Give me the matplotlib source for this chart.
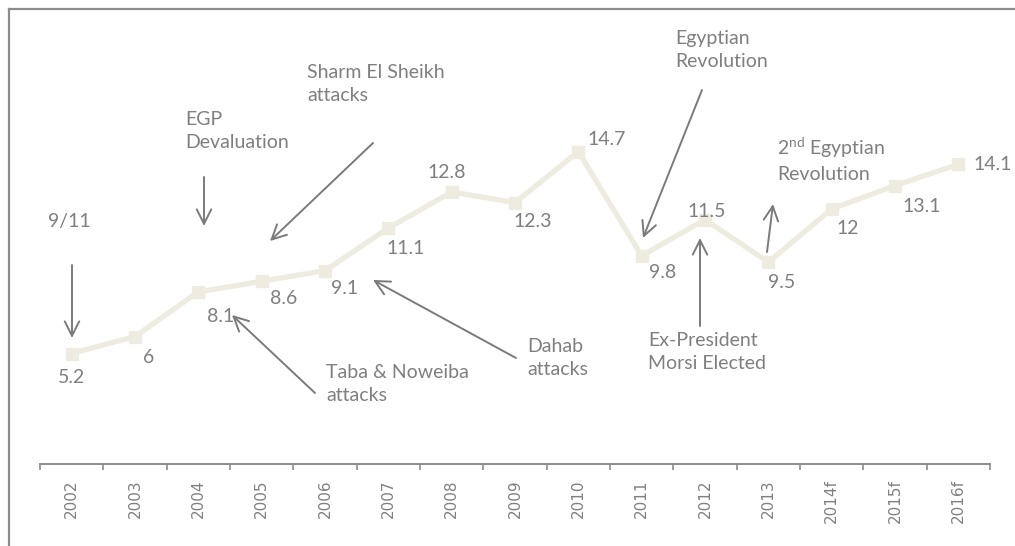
import matplotlib
matplotlib.use("Agg")
import matplotlib.pyplot as plt
from matplotlib.lines import Line2D

years = ["2002", "2003", "2004", "2005", "2006", "2007", "2008", "2009",
         "2010", "2011", "2012", "2013", "2014f", "2015f", "2016f"]
values = [5.2, 6, 8.1, 8.6, 9.1, 11.1, 12.8, 12.3, 14.7, 9.8, 11.5, 9.5, 12, 13.1, 14.1]
value_labels = ["5.2", "6", "8.1", "8.6", "9.1", "11.1", "12.8", "12.3",
                "14.7", "9.8", "11.5", "9.5", "12", "13.1", "14.1"]

W, H = 1015, 546
DPI = 100
plt.rcParams['font.family'] = ['Lato', 'DejaVu Sans']
plt.rcParams['mathtext.fontset'] = 'custom'
plt.rcParams['mathtext.rm'] = 'Lato'

TXT = '#7f7f7f'
ARW = '#7a7a7a'
LINE = '#eeece1'
FS = 14

fig = plt.figure(figsize=(W / DPI, H / DPI), dpi=DPI)
ax = fig.add_axes([40 / W, 82 / H, 950 / W, 425 / H])
x = list(range(len(years)))
ax.plot(x, values, color=LINE, lw=3.8, marker='s', markersize=9,
        markerfacecolor=LINE, markeredgecolor=LINE, solid_joinstyle='miter')
ax.set_xlim(-0.5, len(years) - 0.5)
ax.set_ylim(0, 20)

for s in ['top', 'right', 'left']:
    ax.spines[s].set_visible(False)
ax.spines['bottom'].set_color('#8c8c8c')
ax.spines['bottom'].set_linewidth(1.4)
ax.set_yticks([])
ax.set_xticks(x)
ax.set_xticks([i - 0.5 for i in range(len(years) + 1)], minor=True)
ax.set_xticklabels(years, rotation=90)
for t in ax.get_xticklabels():
    t.set_fontfamily('DejaVu Sans')
    t.set_fontsize(11)
    t.set_color('#808080')
ax.tick_params(axis='x', which='major', length=0, pad=11)
ax.tick_params(axis='x', which='minor', length=4, width=1.2, color='#8c8c8c')

# data labels (offsets in pixels, y up)
offsets = [(0, -24), (14, -21), (22, -25), (22, -17), (20, -18), (17, -20),
           (-5, 20), (18, -19), (28, 12), (21, -17), (2, 8), (13, -20),
           (16, -19), (27, -21), (34, 0)]
for xi, v, lab, (dx, dy) in zip(x, values, value_labels, offsets):
    ax.annotate(lab, xy=(xi, v), xytext=(dx, dy), textcoords='offset pixels',
                ha='center', va='center', fontsize=FS, color=TXT)


def P(px, py):
    return (px, H - py)


def note(txt, px, py):
    fig.text(px / W, (H - py) / H, txt, ha='left', va='top', fontsize=FS,
             color=TXT, linespacing=1.4)


def arrow(tail, head):
    ax.annotate('', xy=P(*head), xytext=P(*tail), xycoords='figure pixels',
                textcoords='figure pixels',
                arrowprops=dict(arrowstyle='->', color=ARW, lw=1.4,
                                mutation_scale=26, shrinkA=0, shrinkB=0))


note("9/11", 48, 213)
arrow((72, 265), (72, 338))
note("EGP\nDevaluation", 185, 111)
arrow((204, 177), (204, 226))
note("Sharm El Sheikh\nattacks", 307, 64)
arrow((373, 143), (270, 241))
note("Taba & Noweiba\nattacks", 326, 364)
arrow((315, 393), (232, 315))
note("Dahab\nattacks", 527, 338)
arrow((516, 358), (373, 280))
note("Egyptian\nRevolution", 675, 30)
arrow((702, 90), (643, 238))
note("Ex-President\nMorsi Elected", 648, 332)
arrow((700, 326), (700, 238))
note("2$^{\\mathrm{nd}}$ Egyptian\nRevolution", 777, 135)
arrow((767, 252), (773, 204))

# outer frame (clipped at right and bottom)
fig.add_artist(Line2D([9 / W, 1.02], [(H - 9) / H] * 2, color='#8c8c8c',
                      lw=1.6, transform=fig.transFigure))
fig.add_artist(Line2D([9 / W, 9 / W], [(H - 9) / H, -0.02], color='#8c8c8c',
                      lw=1.6, transform=fig.transFigure))

fig.savefig('out.png', dpi=DPI)
